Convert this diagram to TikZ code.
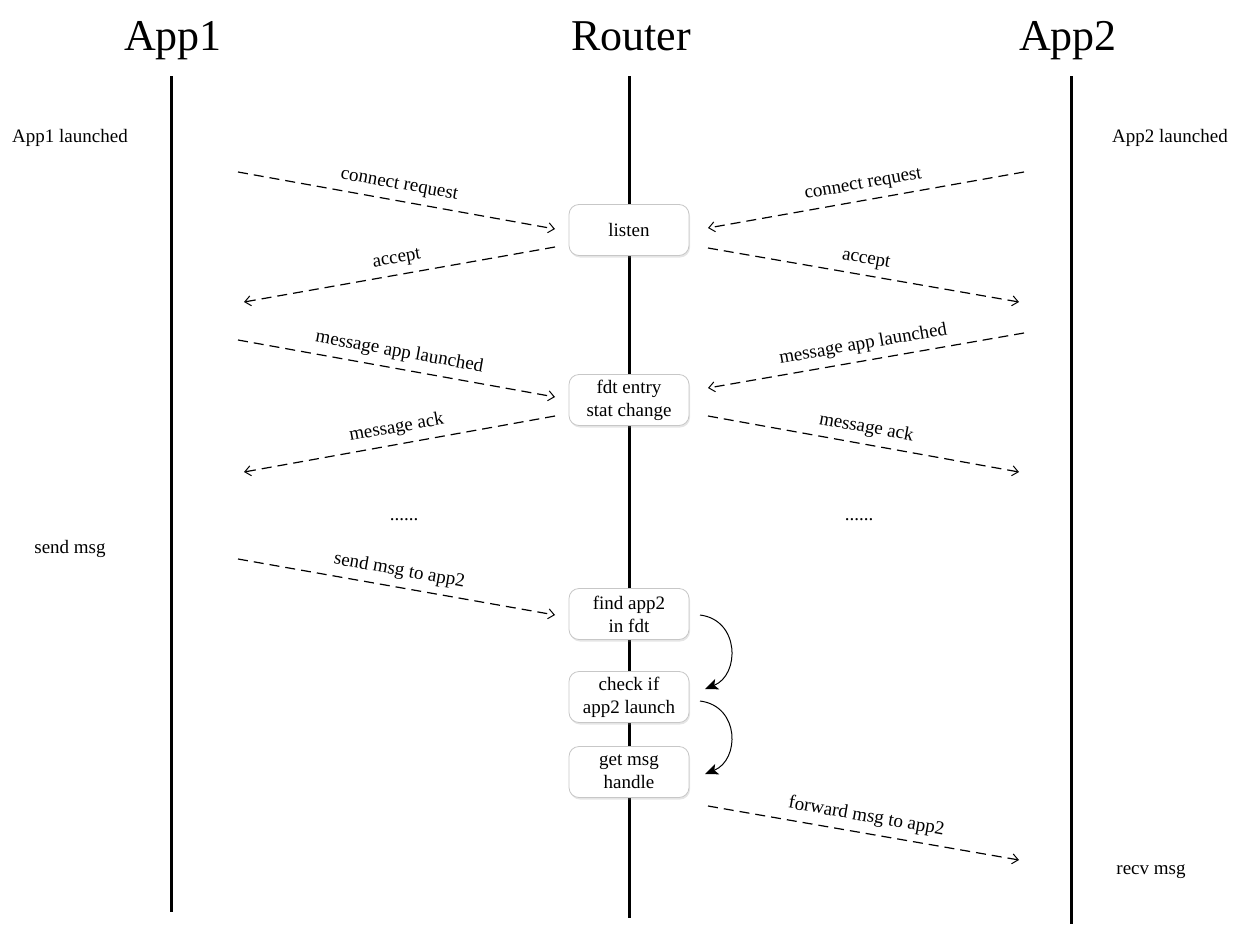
\documentclass[tikz,border=0pt]{standalone}
\usepackage{fontspec}
\setmainfont{Liberation Serif}
\usetikzlibrary{arrows.meta,shadows}
\begin{document}
\begin{tikzpicture}[x=1pt,y=-1pt,
  life/.style={line width=3pt},
  title/.style={font=\fontsize{44}{48}\selectfont, anchor=base},
  side/.style={font=\fontsize{19}{22}\selectfont, anchor=base},
  box/.style={draw=black!22, line width=0.8pt, rounded corners=10pt, fill=white,
     minimum width=120pt, minimum height=51pt, align=center,
     font=\fontsize{19}{23}\selectfont,
     drop shadow={shadow xshift=1pt, shadow yshift=-2pt, opacity=0.25, fill=black!40}},
  msg/.style={dash pattern=on 10pt off 6pt, line width=1.2pt,
     -{Straight Barb[length=6pt,width=10pt,line width=1pt]}},
  lbl/.style={font=\fontsize{19}{22}\selectfont, sloped, above, midway, inner sep=7pt},
  loop/.style={line width=1pt, -{Stealth[length=13pt,width=11pt,inset=3pt]}}
]
\useasboundingbox (0,0) rectangle (1240,926);

% titles
\node[title] (t1) at (173,50) {App1};
\node[title] (tr) at (631,50) {Router};
\node[title] (t2) at (1068,50) {App2};

% lifelines
\coordinate (a1top) at (171,76); \coordinate (a1bot) at (171,912);
\coordinate (rtop) at (629,76);  \coordinate (rbot) at (629,918);
\coordinate (a2top) at (1071,76); \coordinate (a2bot) at (1071,924);
\draw[life] (a1top) -- (a1bot);
\draw[life] (rtop) -- (rbot);
\draw[life] (a2top) -- (a2bot);

% side texts
\node[side] (l1) at (70,142) {App1 launched};
\node[side] (l2) at (1170,142) {App2 launched};
\node[side] (l3) at (70,553) {send msg};
\node[side] (l4) at (1151,874) {recv msg};

% boxes
\node[box] (listen) at (629,230) {listen};
\node[box] (fdt) at (629,400) {fdt entry\\stat change};
\node[box] (find) at (629,614) {find app2\\in fdt};
\node[box] (check) at (629,697) {check if\\app2 launch};
\node[box] (get) at (629,772) {get msg\\handle};

% dots
\node[side] (d1) at (404,520) {......};
\node[side] (d2) at (859,520) {......};

% coordinates for message ends
\coordinate (p1s) at (238,172); \coordinate (p1e) at (555,229);
\coordinate (p2s) at (555,247); \coordinate (p2e) at (244,302);
\coordinate (p3s) at (238,340); \coordinate (p3e) at (555,397);
\coordinate (p4s) at (555,416); \coordinate (p4e) at (244,472);
\coordinate (p5s) at (238,559); \coordinate (p5e) at (555,615);
\coordinate (q1s) at (1024,172); \coordinate (q1e) at (708,228);
\coordinate (q2s) at (708,248); \coordinate (q2e) at (1019,302);
\coordinate (q3s) at (1024,333); \coordinate (q3e) at (708,388);
\coordinate (q4s) at (708,416); \coordinate (q4e) at (1019,472);
\coordinate (q5s) at (708,806); \coordinate (q5e) at (1019,860);

\draw[msg] (p1s) -- node[lbl] {connect request} (p1e);
\draw[msg] (p2s) -- node[lbl] {accept} (p2e);
\draw[msg] (p3s) -- node[lbl] {message app launched} (p3e);
\draw[msg] (p4s) -- node[lbl] {message ack} (p4e);
\draw[msg] (p5s) -- node[lbl] {send msg to app2} (p5e);
\draw[msg] (q1s) -- node[lbl] {connect request} (q1e);
\draw[msg] (q2s) -- node[lbl] {accept} (q2e);
\draw[msg] (q3s) -- node[lbl] {message app launched} (q3e);
\draw[msg] (q4s) -- node[lbl] {message ack} (q4e);
\draw[msg] (q5s) -- node[lbl] {forward msg to app2} (q5e);

% internal loops
\coordinate (c1s) at (700,615); \coordinate (c1e) at (705,689);
\coordinate (c2s) at (700,701); \coordinate (c2e) at (705,774);
\draw[loop] (c1s) .. controls (740,620) and (740,675) .. (c1e);
\draw[loop] (c2s) .. controls (740,706) and (740,760) .. (c2e);
\end{tikzpicture}
\end{document}
